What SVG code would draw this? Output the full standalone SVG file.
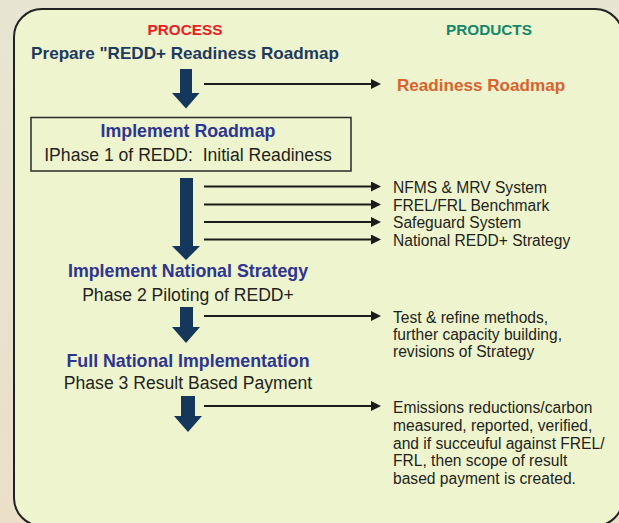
<svg xmlns="http://www.w3.org/2000/svg" width="619" height="523" viewBox="0 0 619 523">
  <defs>
    <linearGradient id="bg" x1="0" y1="0" x2="0" y2="1">
      <stop offset="0" stop-color="#e7e5d2"/>
      <stop offset="1" stop-color="#ebdfc8"/>
    </linearGradient>
    <marker id="head" viewBox="0 0 10 10" markerUnits="userSpaceOnUse" markerWidth="10" markerHeight="10" refX="0" refY="5" orient="auto">
      <path d="M0,0 L10,5 L0,10 z" fill="#1c1a1a"/>
    </marker>
    <style>
      text { font-family: "Liberation Sans", Arial, sans-serif; }
      .col { font-size: 15.3px; font-weight: bold; text-anchor: middle; }
      .step { font-size: 17.8px; font-weight: bold; fill: #2d3590; text-anchor: middle; }
      .sub { font-size: 17.6px; fill: #231f20; text-anchor: middle; white-space: pre; }
      .prod { font-size: 15.6px; fill: #231f20; }
      .block { fill: #16375c; }
      .link { stroke: #1c1a1a; stroke-width: 2; fill: none; marker-end: url(#head); }
    </style>
  </defs>

  <!-- page background and panel -->
  <rect x="0" y="0" width="619" height="523" fill="url(#bg)"/>
  <rect x="14" y="9" width="609" height="517" rx="28" ry="28" fill="#eef4cd" stroke="#222" stroke-width="2"/>

  <!-- column headings -->
  <g id="headings">
    <text class="col" x="185" y="35" fill="#ec1c24">PROCESS</text>
    <text class="col" x="489" y="35" fill="#14876b">PRODUCTS</text>
  </g>

  <!-- process steps -->
  <g id="step-prepare">
    <text x="185" y="59" font-size="17.1" font-weight="bold" fill="#1e3a5f" text-anchor="middle">Prepare "REDD+ Readiness Roadmap</text>
  </g>

  <g id="step-roadmap">
    <rect x="31" y="117.5" width="320" height="53.5" fill="none" stroke="#2a2a2a" stroke-width="1.5"/>
    <text class="step" x="188" y="137">Implement Roadmap</text>
    <text class="sub" x="188" y="160.5">IPhase 1 of REDD:  Initial Readiness</text>
  </g>

  <g id="step-strategy">
    <text class="step" x="188" y="277">Implement National Strategy</text>
    <text class="sub" x="188" y="300.5">Phase 2 Piloting of REDD+</text>
  </g>

  <g id="step-full">
    <text class="step" x="188" y="366.5">Full National Implementation</text>
    <text class="sub" x="188" y="389">Phase 3 Result Based Payment</text>
  </g>

  <!-- products -->
  <g id="product-roadmap">
    <text x="397" y="91" font-size="17.1" font-weight="bold" fill="#d8632c">Readiness Roadmap</text>
  </g>

  <g id="products-phase1">
    <text class="prod" x="393" y="193">NFMS &amp; MRV System</text>
    <text class="prod" x="393" y="210.5">FREL/FRL Benchmark</text>
    <text class="prod" x="393" y="228">Safeguard System</text>
    <text class="prod" x="393" y="245.5">National REDD+ Strategy</text>
  </g>

  <g id="products-phase2">
    <text class="prod" x="393" y="322.5">Test &amp; refine methods,</text>
    <text class="prod" x="393" y="340">further capacity building,</text>
    <text class="prod" x="393" y="357">revisions of Strategy</text>
  </g>

  <g id="products-phase3">
    <text class="prod" x="393" y="413">Emissions reductions/carbon</text>
    <text class="prod" x="393" y="431">measured, reported, verified,</text>
    <text class="prod" x="393" y="448.5">and if succeuful against FREL/</text>
    <text class="prod" x="393" y="466">FRL, then scope of result</text>
    <text class="prod" x="393" y="483.5">based payment is created.</text>
  </g>

  <!-- connectors: process flow arrows and product links -->
  <g id="connectors">
    <polygon class="block" points="180,69 192,69 192,93 199.5,93 186,108.5 172,93 180,93"/>
    <polygon class="block" points="180,178 193,178 193,246 200,246 186,260 172,246 180,246"/>
    <polygon class="block" points="180,307 193,307 193,327 200,327 186,343 172,327 180,327"/>
    <polygon class="block" points="181,396 195,396 195,416 202,416 188,432 174,416 181,416"/>

    <line class="link" x1="204" y1="84" x2="371" y2="84"/>
    <line class="link" x1="204" y1="186.5" x2="371" y2="186.5"/>
    <line class="link" x1="204" y1="204.5" x2="371" y2="204.5"/>
    <line class="link" x1="204" y1="222" x2="371" y2="222"/>
    <line class="link" x1="204" y1="239.5" x2="371" y2="239.5"/>
    <line class="link" x1="204" y1="316" x2="371" y2="316"/>
    <line class="link" x1="204" y1="406" x2="371" y2="406"/>
  </g>
</svg>
